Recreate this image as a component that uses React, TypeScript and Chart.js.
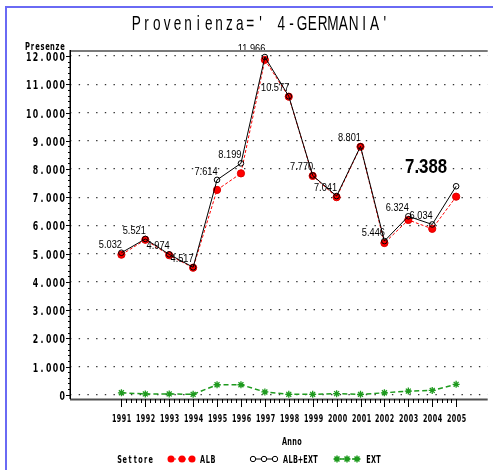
import React, { useEffect, useRef } from "react";
import { Chart, registerables } from "chart.js";
Chart.register(...registerables);

const titleText = "Provenienza=' 4-GERMANIA'";
const yAxisLabel = "Presenze";
const xAxisLabel = "Anno";
const legendTitle = "Settore";
const years = [1991, 1992, 1993, 1994, 1995, 1996, 1997, 1998, 1999, 2000, 2001, 2002, 2003, 2004, 2005];
const albExt = [5032, 5521, 4974, 4517, 7614, 8199, 11966, 10577, 7770, 7041, 8801, 5446, 6324, 6034, 7388];
const alb = [4962, 5491, 4944, 4502, 7259, 7844, 11866, 10562, 7755, 7001, 8786, 5376, 6194, 5879, 7018];
const ext = [70, 30, 30, 15, 355, 355, 100, 15, 15, 40, 15, 70, 130, 155, 370];
const valueLabels = ["5.032", "5.521", "4.974", "4.517", "7.614", "8.199", "11.966", "10.577", "7.770", "7.041", "8.801", "5.446", "6.324", "6.034", "7.388"];
const yTicks = [0, 1000, 2000, 3000, 4000, 5000, 6000, 7000, 8000, 9000, 10000, 11000, 12000];
const seriesNames = ["ALB", "ALB+EXT", "EXT"];

const RED = "#ff0000";
const GREEN = "#1e9a1e";
const BLUE = "#6a6af4";

function fmt(n: number) {
  return String(n).replace(/\B(?=(\d{3})+(?!\d))/g, ".");
}

function drawMono(ctx: CanvasRenderingContext2D, text: string, left: number, baseline: number, cellW: number, font: string, sx: number, sy = 1, color = "#000") {
  ctx.save();
  ctx.font = font;
  ctx.fillStyle = color;
  ctx.textAlign = "center";
  ctx.textBaseline = "alphabetic";
  for (let i = 0; i < text.length; i++) {
    const cx = left + cellW * (i + 0.5);
    ctx.save();
    ctx.translate(cx, baseline);
    ctx.scale(sx, sy);
    ctx.fillText(text[i], 0, 0);
    ctx.restore();
  }
  ctx.restore();
}

function drawScaled(ctx: CanvasRenderingContext2D, text: string, right: number, baseline: number, font: string, sx: number) {
  ctx.save();
  ctx.font = font;
  ctx.fillStyle = "#000";
  ctx.textAlign = "right";
  ctx.textBaseline = "alphabetic";
  ctx.translate(right, baseline);
  ctx.scale(sx, 1);
  ctx.fillText(text, 0, 0);
  ctx.restore();
}

const LBL_FONT = 'bold 11.5px "DejaVu Sans"';
const SMALL_FONT = 'bold 10px "DejaVu Sans"';

const sasPlugin = {
  id: "sas",
  beforeDraw(chart: any) {
    const ctx = chart.ctx as CanvasRenderingContext2D;
    ctx.save();
    ctx.fillStyle = "#fff";
    ctx.fillRect(0, 0, chart.width, chart.height);
    ctx.fillStyle = BLUE;
    ctx.fillRect(5, 6, chart.width, 2);
    ctx.fillRect(5, 6, 2, chart.height);
    ctx.restore();
  },
  afterDatasetsDraw(chart: any) {
    const ctx = chart.ctx as CanvasRenderingContext2D;
    const meta = chart.getDatasetMeta(1);
    meta.data.forEach((pt: any, i: number) => {
      if (i === valueLabels.length - 1) {
        drawScaled(ctx, valueLabels[i], pt.x - 9, pt.y - 13, 'bold 21px "Liberation Sans"', 0.8);
      } else {
        drawScaled(ctx, valueLabels[i], pt.x + 0.5, pt.y - 5, '11px "Liberation Sans"', 0.84);
      }
    });
  },
  afterDraw(chart: any) {
    const ctx = chart.ctx as CanvasRenderingContext2D;
    const area = chart.chartArea;
    const xs = chart.scales.x;
    const ys = chart.scales.y;
    ctx.save();
    ctx.fillStyle = "#7a7a7a";
    ctx.fillRect(area.left, area.top - 1, area.right - area.left, 2);
    ctx.fillStyle = "#505050";
    ctx.fillRect(area.left, area.bottom - 0.5, area.right - area.left, 2);
    ctx.fillStyle = "#000";
    ctx.fillRect(area.left - 0.5, area.top - 1, 1.5, area.bottom - area.top + 1);
    ctx.fillStyle = "#000";
    for (let k = 0; k < yTicks.length; k++) {
      const v = yTicks[k];
      const y = Math.round(ys.getPixelForValue(v));
      ctx.fillRect(area.left - 4, y, 4, 1);
      const s = fmt(v);
      const cell = 6.7;
      drawMono(ctx, s, area.left - 4.5 - s.length * cell, y + 4.5, cell, LBL_FONT, 0.68);
      if (k < yTicks.length - 1) {
        const step = (yTicks[k + 1] - v) / 5;
        for (let m = 1; m < 5; m++) {
          const ym = Math.round(ys.getPixelForValue(v + step * m));
          ctx.fillRect(area.left - 2, ym, 2, 1);
        }
      }
    }
    for (let k = 0; k < years.length; k++) {
      const x = Math.round(xs.getPixelForValue(years[k]));
      ctx.fillStyle = "#000";
      ctx.fillRect(x, area.bottom, 1, 8);
      const s = String(years[k]);
      const cell = 4.9;
      drawMono(ctx, s, x + 0.5 - (s.length * cell) / 2, area.bottom + 23, cell, 'bold 11px "DejaVu Sans"', 0.58);
      if (k < years.length - 1) {
        for (let m = 1; m < 5; m++) {
          const xm = Math.round(xs.getPixelForValue(years[k] + m / 5));
          ctx.fillRect(xm, area.bottom, 1, 4);
        }
      }
    }
    // title
    drawMono(ctx, titleText, 131, 29.5, 10.36, '20px "Liberation Sans"', 0.68, 1.02);
    drawMono(ctx, yAxisLabel, 25, 49.5, 5, 'bold 9.6px "DejaVu Sans"', 0.7);
    drawMono(ctx, xAxisLabel, 282, 445, 5, SMALL_FONT, 0.65);
    const ly = 459;
    drawMono(ctx, legendTitle, 117, 462.5, 5.2, SMALL_FONT, 0.65);
    ctx.save();
    ctx.strokeStyle = RED; ctx.lineWidth = 1; ctx.setLineDash([3, 2]);
    ctx.beginPath(); ctx.moveTo(168, ly); ctx.lineTo(195, ly); ctx.stroke();
    ctx.setLineDash([]);
    ctx.fillStyle = RED;
    [171, 182, 192].forEach((x) => { ctx.beginPath(); ctx.arc(x, ly, 3.5, 0, Math.PI * 2); ctx.fill(); });
    ctx.restore();
    drawMono(ctx, seriesNames[0], 200, 462.5, 5.2, SMALL_FONT, 0.65);
    ctx.save();
    ctx.strokeStyle = "#000"; ctx.lineWidth = 1;
    ctx.beginPath(); ctx.moveTo(251, ly); ctx.lineTo(277, ly); ctx.stroke();
    ctx.fillStyle = "#fff";
    [253, 264, 275].forEach((x) => { ctx.beginPath(); ctx.arc(x, ly, 2.7, 0, Math.PI * 2); ctx.fill(); ctx.stroke(); });
    ctx.restore();
    drawMono(ctx, seriesNames[1], 283, 462.5, 5, SMALL_FONT, 0.65);
    ctx.save();
    ctx.strokeStyle = GREEN; ctx.lineWidth = 1.5; ctx.setLineDash([4, 2]);
    ctx.beginPath(); ctx.moveTo(334, ly); ctx.lineTo(360, ly); ctx.stroke();
    ctx.setLineDash([]);
    [337, 347, 357].forEach((x) => {
      const r = 3.5;
      ctx.beginPath();
      for (let a = 0; a < 4; a++) {
        const ang = (a * Math.PI) / 4;
        ctx.moveTo(x - r * Math.cos(ang), ly - r * Math.sin(ang));
        ctx.lineTo(x + r * Math.cos(ang), ly + r * Math.sin(ang));
      }
      ctx.stroke();
    });
    ctx.restore();
    drawMono(ctx, seriesNames[2], 366, 462.5, 5, SMALL_FONT, 0.65);
    ctx.restore();
  },
};

export default function App() {
  const ref = useRef<HTMLCanvasElement>(null);
  useEffect(() => {
    if (!ref.current) return;
    const chart = new Chart(ref.current, {
      type: "line",
      data: {
        datasets: [
          {
            label: seriesNames[2],
            data: years.map((y, i) => ({ x: y, y: ext[i] })),
            borderColor: GREEN,
            borderWidth: 1.5,
            borderDash: [5, 3],
            pointStyle: "star",
            pointRadius: 3.5,
            pointBorderColor: GREEN,
            pointBorderWidth: 1.3,
            tension: 0,
          },
          {
            label: seriesNames[1],
            data: years.map((y, i) => ({ x: y, y: albExt[i] })),
            borderColor: "#000",
            borderWidth: 1,
            pointStyle: "circle",
            pointRadius: 2.8,
            pointBackgroundColor: "rgba(0,0,0,0)",
            pointBorderColor: "#000",
            pointBorderWidth: 1,
            tension: 0,
          },
          {
            label: seriesNames[0],
            data: years.map((y, i) => ({ x: y, y: alb[i] })),
            borderColor: RED,
            borderWidth: 1,
            borderDash: [3, 2],
            pointStyle: "circle",
            pointRadius: 3.6,
            pointBackgroundColor: RED,
            pointBorderColor: "#e00000",
            pointBorderWidth: 1,
            tension: 0,
          },
        ],
      },
      options: {
        responsive: false,
        animation: false,
        events: [],
        layout: { padding: { left: 70, top: 51, right: 0, bottom: 71 } },
        plugins: { legend: { display: false }, title: { display: false }, tooltip: { enabled: false } },
        scales: {
          x: {
            type: "linear",
            display: false,
            min: 1988.85,
            max: 2006.32,
          },
          y: {
            type: "linear",
            min: -150,
            max: 12180,
            ticks: { display: false, stepSize: 1000 },
            grid: { display: true, drawTicks: false, color: "#333", lineWidth: 1.2 },
            border: { display: false, dash: [1.4, 7.3] },
            afterBuildTicks: (scale: any) => {
              scale.ticks = yTicks.map((v) => ({ value: v }));
            },
            afterFit: (scale: any) => {
              scale.width = 0;
            },
          },
        },
      } as any,
      plugins: [sasPlugin],
    });
    return () => chart.destroy();
  }, []);
  return (
    <div style={{ position: "absolute", left: 0, top: 0, width: 493, height: 470, background: "#fff" }}>
      <canvas ref={ref} width={493} height={470} style={{ display: "block", width: 493, height: 470 }} />
    </div>
  );
}
